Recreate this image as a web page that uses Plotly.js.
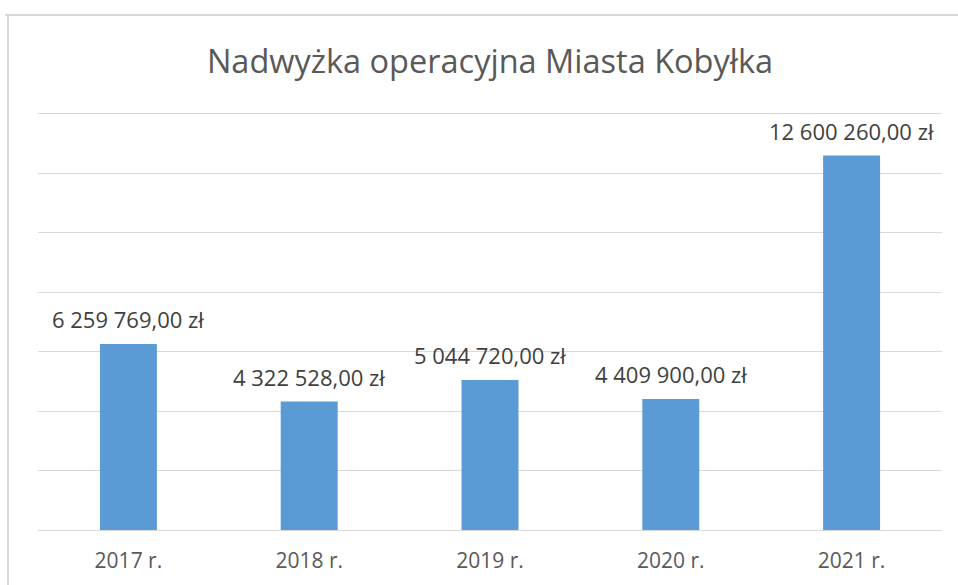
<!DOCTYPE html>
<html>
<head>
<meta charset="utf-8">
<script src="https://cdn.plot.ly/plotly-3.0.1.min.js"></script>
<style>
html,body{margin:0;padding:0;background:#fff;}
#chart{width:958px;height:585px;}
</style>
</head>
<body>
<div id="chart"></div>
<script>
const years = ["2017 r.", "2018 r.", "2019 r.", "2020 r.", "2021 r."];
const surplus = [6259769.00, 4322528.00, 5044720.00, 4409900.00, 12600260.00];
const chartTitle = "Nadwyżka operacyjna Miasta Kobyłka";

function fmtPLN(v){
  const parts = v.toFixed(2).split(".");
  const intPart = parts[0].replace(/\B(?=(\d{3})+(?!\d))/g, " ");
  return intPart + "," + parts[1] + " zł";
}

const W = 958, H = 585;
const L = 38, R = 16, T = 108, B = 55;
const pw = W - L - R, ph = H - T - B;
function px2x(px){ return (px - L) / pw; }
function py2y(py){ return 1 - (py - T) / ph; }

const FONT = "'Open Sans', sans-serif";

const trace = {
  type: "bar",
  x: years,
  y: surplus,
  marker: {color: "#5B9BD5"},
  hoverinfo: "none"
};

const annotations = years.map((c, i) => ({
  x: c, y: surplus[i], xref: "x", yref: "y",
  text: fmtPLN(surplus[i]),
  showarrow: false, yanchor: "bottom", yshift: 8,
  font: {family: FONT, size: 22, color: "#404040"}
}));

const shapes = [
  {type: "line", xref: "paper", yref: "paper", x0: px2x(5), x1: px2x(958), y0: py2y(15), y1: py2y(15), line: {color: "#d9d9d9", width: 2}},
  {type: "line", xref: "paper", yref: "paper", x0: px2x(8), x1: px2x(8), y0: py2y(15), y1: py2y(585), line: {color: "#d9d9d9", width: 2}}
];

const layout = {
  width: W, height: H,
  margin: {l: L, r: R, t: T, b: B, pad: 0},
  paper_bgcolor: "#ffffff",
  plot_bgcolor: "#ffffff",
  title: {text: chartTitle, xref: "paper", x: 0.5, xanchor: "center", y: 1 - 62/H, yanchor: "middle", font: {family: FONT, size: 32.5, color: "#595959"}},
  bargap: 0.685,
  showlegend: false,
  xaxis: {
    type: "category",
    showgrid: false, zeroline: false,
    showline: true, linecolor: "#d9d9d9", linewidth: 1,
    ticks: "", tickfont: {family: FONT, size: 21, color: "#595959"},
    ticklabelstandoff: 12
  },
  yaxis: {
    range: [0, 14200000], dtick: 2000000, tick0: 0,
    showgrid: true, gridcolor: "#d9d9d9", gridwidth: 1,
    zeroline: false, showticklabels: false, ticks: "", showline: false,
    fixedrange: true
  },
  annotations: annotations,
  shapes: shapes
};

Plotly.newPlot("chart", [trace], layout, {displayModeBar: false, staticPlot: true});
</script>
</body>
</html>
